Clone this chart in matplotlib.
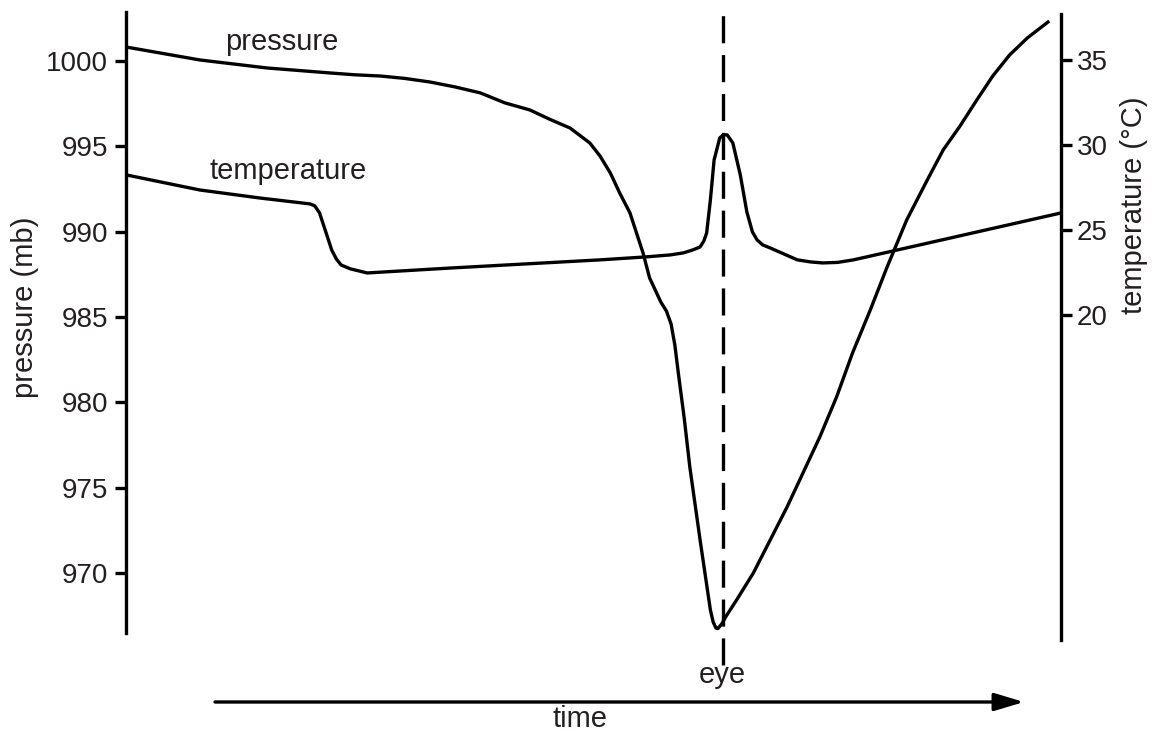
import matplotlib
matplotlib.use('Agg')
import matplotlib.pyplot as plt
from matplotlib.transforms import blended_transform_factory

# time runs 0..100 across the plot, eye passage at ~63.8
time_p = [0.0, 7.9, 15.1, 21.8, 24.5, 27.2, 29.8, 32.5, 35.2, 37.9, 40.5, 43.2, 45.3,
          47.5, 49.6, 50.7, 51.8, 52.8, 53.9, 55.3, 56.0, 56.7, 57.2, 57.8, 58.3,
          58.7, 59.1, 59.7, 60.3, 61.4, 62.5, 62.8, 63.1, 63.3, 63.7, 64.2, 65.3,
          67.1, 68.9, 70.7, 72.4, 74.2, 76.0, 77.7, 79.6, 81.4, 83.5, 85.7, 87.4,
          89.2, 91.0, 92.7, 94.5, 96.4, 98.6]
pressure = [1000.82, 1000.06, 999.59, 999.30, 999.19, 999.12, 998.98, 998.77, 998.48,
            998.13, 997.55, 997.13, 996.59, 996.07, 995.20, 994.43, 993.44, 992.27,
            991.10, 988.75, 987.29, 986.47, 985.88, 985.35, 984.59, 983.36, 981.60,
            979.09, 976.22, 971.94, 967.84, 967.13, 966.78, 966.75, 967.01, 967.49,
            968.42, 970.01, 971.94, 973.87, 975.86, 977.97, 980.32, 982.89, 985.41,
            987.93, 990.69, 993.03, 994.79, 996.19, 997.72, 999.12, 1000.35, 1001.35,
            1002.28]

time_t = [0.0, 7.9, 14.3, 19.7, 20.2, 20.7, 21.3, 22.0, 22.5, 23.0, 24.0, 25.8, 34.7,
          50.7, 55.5, 58.2, 59.6, 60.6, 61.4, 61.8, 62.1, 62.5, 62.9, 63.5, 63.9,
          64.3, 64.9, 65.7, 66.4, 67.0, 67.5, 68.1, 68.9, 71.8, 73.2, 74.5, 76.1,
          77.8, 82.0, 84.9, 100.0]
temperature = [28.24, 27.35, 26.88, 26.53, 26.41, 26.00, 25.00, 23.82, 23.29, 22.94,
               22.71, 22.47, 22.76, 23.24, 23.41, 23.53, 23.65, 23.82, 24.00, 24.35,
               24.82, 26.76, 29.12, 30.41, 30.60, 30.59, 30.12, 28.24, 26.06, 24.88,
               24.41, 24.12, 23.94, 23.24, 23.12, 23.06, 23.09, 23.24, 23.76, 24.12,
               26.00]

p_ticks = [970, 975, 980, 985, 990, 995, 1000]
t_ticks = [20, 25, 30, 35]
eye_time = 63.8

plt.rcParams['font.family'] = ['Liberation Sans', 'DejaVu Sans']
plt.rcParams['font.size'] = 20
plt.rcParams['lines.scale_dashes'] = False
txt = '#231f20'
lw = 2.4

fig = plt.figure(figsize=(11.54, 7.31), dpi=100)
ax = fig.add_axes([126 / 1154, 1 - 640 / 731, 935 / 1154, 628 / 731])
ax.set_xlim(0, 100)
ax.set_ylim(966.08, 1002.87)
ax2 = ax.twinx()
ax2.set_ylim(0.88, 37.82)

ax.plot(time_p, pressure, color='black', lw=lw, solid_joinstyle='round')
ax2.plot(time_t, temperature, color='black', lw=lw, solid_joinstyle='round')

# spines / ticks
for s in ['top', 'bottom', 'right']:
    ax.spines[s].set_visible(False)
for s in ['top', 'bottom', 'left']:
    ax2.spines[s].set_visible(False)
ax.spines['left'].set_linewidth(lw)
ax2.spines['right'].set_linewidth(lw)
ax.spines['left'].set_bounds(966.49, 1002.87)
ax2.spines['right'].set_bounds(0.88, 37.71)
ax.set_xticks([])
ax.set_yticks(p_ticks)
ax2.set_yticks(t_ticks)
ax.tick_params(axis='y', length=8, width=lw, pad=5, labelsize=20, labelcolor=txt)
ax2.tick_params(axis='y', length=8, width=lw, pad=3.6, labelsize=20, labelcolor=txt)

# eye marker line
tr = blended_transform_factory(ax.transData, fig.transFigure)
ax.plot([eye_time, eye_time], [1 - 665 / 731, 1 - 8 / 731], transform=tr,
        color='black', lw=lw, dashes=(19.5, 8.5), clip_on=False)

# curve labels
ax.text(10.6, 1000.64, 'pressure', ha='left', va='baseline', color=txt, fontsize=21)
ax2.text(8.98, 28.0, 'temperature', ha='left', va='baseline', color=txt, fontsize=21)

fig.text(722 / 1154, 1 - 683 / 731, 'eye', ha='center', va='baseline', color=txt, fontsize=21)
fig.text(580 / 1154, 1 - 727 / 731, 'time', ha='center', va='baseline', color=txt, fontsize=21)
fig.text(25 / 1154, 1 - 307 / 731, 'pressure (mb)', rotation=90, ha='center', va='center',
         color=txt, fontsize=21)
fig.text(1134 / 1154, 1 - 205 / 731, 'temperature (°C)', rotation=90, ha='center', va='center',
         color=txt, fontsize=21)

# time arrow
ax.annotate('', xy=(1024 / 1154, 1 - 702 / 731), xytext=(215 / 1154, 1 - 702 / 731),
            xycoords='figure fraction', textcoords='figure fraction',
            arrowprops=dict(arrowstyle='-|>,head_length=0.9,head_width=0.27',
                            mutation_scale=20, lw=lw, color='black',
                            shrinkA=0, shrinkB=0))

fig.savefig('out.png', dpi=100)
